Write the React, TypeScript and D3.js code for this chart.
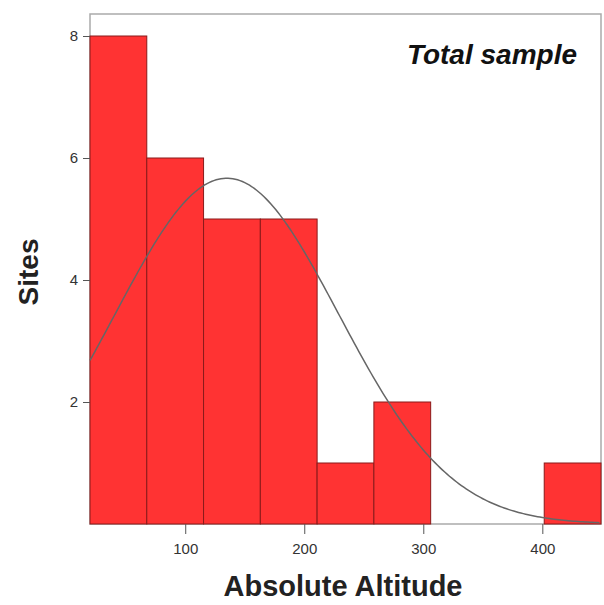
import React, { useEffect, useRef } from 'react';
import * as d3 from 'd3';

// histogram bins (lower edge, count)
const binStarts = [20, 67.7, 115.4, 163.1, 210.8, 258.5, 306.2, 353.9, 401.6];
const binCounts = [8, 6, 5, 5, 1, 2, 0, 0, 1];
const binWidth = 47.7;
const xTicks = [100, 200, 300, 400];
const yTicks = [2, 4, 6, 8];
// fitted normal curve
const curveMean = 135;
const curveSd = 94;

export default function App() {
  const ref = useRef<SVGSVGElement>(null);

  useEffect(() => {
    const width = 604, height = 605;
    const margin = { top: 14, right: 3, bottom: 81, left: 90 };
    const svg = d3.select(ref.current);
    svg.selectAll('*').remove();

    const x = d3.scaleLinear()
      .domain([binStarts[0], binStarts[binStarts.length - 1] + binWidth])
      .range([margin.left, width - margin.right]);
    const y = d3.scaleLinear().domain([0, 8]).range([524, 36]);

    const font = 'Liberation Sans, Arial, sans-serif';

    // frame
    svg.append('rect')
      .attr('x', margin.left).attr('y', margin.top)
      .attr('width', width - margin.right - margin.left)
      .attr('height', 524 - margin.top)
      .attr('fill', '#fff').attr('stroke', '#aaa').attr('stroke-width', 1.5);

    // bars
    const data = binStarts.map((s, i) => ({ s, c: binCounts[i] })).filter(d => d.c > 0);
    svg.selectAll('rect.bar').data(data).enter().append('rect')
      .attr('class', 'bar')
      .attr('x', d => x(d.s))
      .attr('width', d => x(d.s + binWidth) - x(d.s))
      .attr('y', d => y(d.c))
      .attr('height', d => y(0) - y(d.c))
      .attr('fill', '#ff3333')
      .attr('stroke', '#8a1a1a')
      .attr('stroke-width', 1);

    // normal curve
    const n = d3.sum(binCounts);
    const pts = d3.range(x.domain()[0], x.domain()[1] + 0.1, 2).map(v => {
      const z = (v - curveMean) / curveSd;
      return [v, n * binWidth / (curveSd * Math.sqrt(2 * Math.PI)) * Math.exp(-0.5 * z * z)];
    });
    svg.append('path')
      .attr('d', d3.line().x(d => x(d[0])).y(d => y(d[1]))(pts as [number, number][]))
      .attr('fill', 'none').attr('stroke', '#666').attr('stroke-width', 1.5);

    // axes
    const xa = svg.append('g').attr('transform', `translate(0,${y(0)})`)
      .call(d3.axisBottom(x).tickValues(xTicks).tickSize(10).tickPadding(9).tickFormat(d3.format('d')));
    xa.select('.domain').remove();
    xa.selectAll('line').attr('stroke', '#555');
    xa.selectAll('text').attr('font-family', font).attr('font-size', 15).attr('fill', '#333');

    const ya = svg.append('g').attr('transform', `translate(${margin.left},0)`)
      .call(d3.axisLeft(y).tickValues(yTicks).tickSize(7).tickPadding(5).tickFormat(d3.format('d')));
    ya.select('.domain').remove();
    ya.selectAll('line').attr('stroke', '#555');
    ya.selectAll('text').attr('font-family', font).attr('font-size', 15).attr('fill', '#333');

    // titles
    svg.append('text').attr('x', 343).attr('y', 596).attr('text-anchor', 'middle')
      .attr('font-family', font).attr('font-weight', 'bold').attr('font-size', 29).attr('fill', '#222')
      .text('Absolute Altitude');
    svg.append('text').attr('transform', `translate(38,272) rotate(-90)`).attr('text-anchor', 'middle')
      .attr('font-family', font).attr('font-weight', 'bold').attr('font-size', 28).attr('fill', '#222')
      .text('Sites');
    svg.append('text').attr('x', 577).attr('y', 64).attr('text-anchor', 'end')
      .attr('font-family', font).attr('font-weight', 'bold').attr('font-style', 'italic')
      .attr('font-size', 28).attr('fill', '#111')
      .text('Total sample');
  }, []);

  return (
    <svg ref={ref} width={604} height={605}
      style={{ position: 'absolute', left: 0, top: 0, background: '#fff' }} />
  );
}
